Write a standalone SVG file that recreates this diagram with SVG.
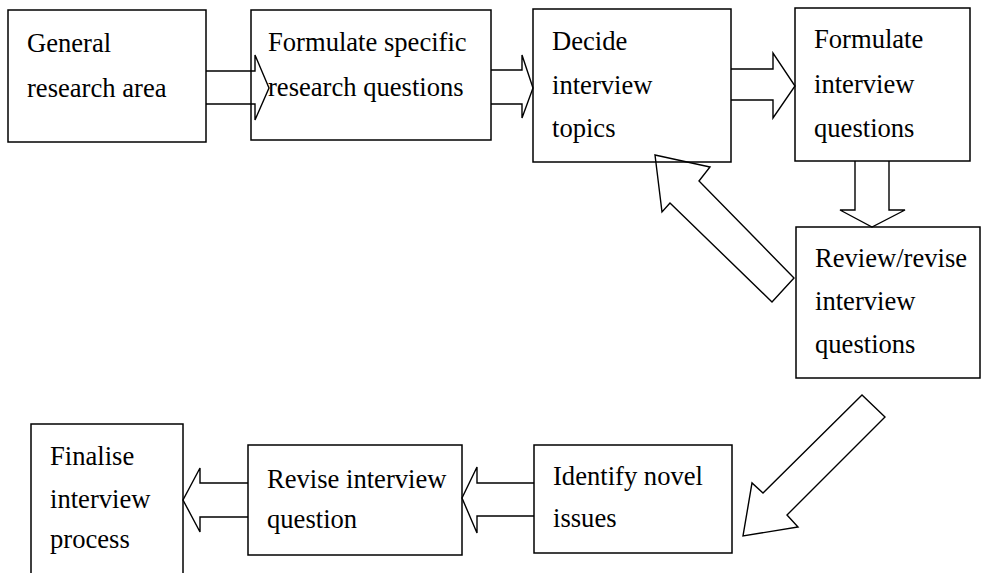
<svg xmlns="http://www.w3.org/2000/svg" width="982" height="573" viewBox="0 0 982 573">
  <style>
    .box { fill: #ffffff; stroke: #000000; stroke-width: 1.5; }
    .arrow { fill: none; stroke: #000000; stroke-width: 1.4; stroke-linejoin: miter; }
    .label { font-family: "Liberation Serif", "Times New Roman", serif; font-size: 26.6px; fill: #000000; }
  </style>
  <rect width="982" height="573" fill="#ffffff"/>

  <g id="n1">
    <rect class="box" x="8" y="10" width="198" height="132"/>
    <text class="label" x="27" y="52">General</text>
    <text class="label" x="27" y="97">research area</text>
  </g>
  <g id="n2">
    <rect class="box" x="251" y="10" width="240" height="130"/>
    <text class="label" x="268" y="51">Formulate specific</text>
    <text class="label" x="268" y="96">research questions</text>
  </g>
  <g id="n3">
    <rect class="box" x="533" y="9" width="198" height="153"/>
    <text class="label" x="552" y="50">Decide</text>
    <text class="label" x="552" y="94">interview</text>
    <text class="label" x="552" y="137">topics</text>
  </g>
  <g id="n4">
    <rect class="box" x="795" y="8" width="175" height="153"/>
    <text class="label" x="814" y="48">Formulate</text>
    <text class="label" x="814" y="93">interview</text>
    <text class="label" x="814" y="137">questions</text>
  </g>
  <g id="n5">
    <rect class="box" x="796" y="227" width="184" height="151"/>
    <text class="label" x="815" y="267">Review/revise</text>
    <text class="label" x="815" y="310">interview</text>
    <text class="label" x="815" y="353">questions</text>
  </g>
  <g id="n6">
    <rect class="box" x="534" y="445" width="198" height="108"/>
    <text class="label" x="553" y="485">Identify novel</text>
    <text class="label" x="553" y="527">issues</text>
  </g>
  <g id="n7">
    <rect class="box" x="248" y="445" width="214" height="110"/>
    <text class="label" x="267" y="488">Revise interview</text>
    <text class="label" x="267" y="528">question</text>
  </g>
  <g id="n8">
    <rect class="box" x="31" y="424" width="152" height="170"/>
    <text class="label" x="50" y="465">Finalise</text>
    <text class="label" x="50" y="508">interview</text>
    <text class="label" x="50" y="548">process</text>
  </g>

  <!-- block arrows between the steps -->
  <g id="connectors">
    <polyline class="arrow" points="206,71 255,71 255,55 269,88 255,120 255,104 206,104"/>
    <polyline class="arrow" points="491,70 522,70 522,55 533,88 522,118 522,104 491,104"/>
    <polyline class="arrow" points="731,69 773,69 773,53 795,86 773,118 773,100 731,100"/>
    <polyline class="arrow" points="855,161 855,210 840,210 872,227 905,210 889,210 889,161"/>
    <polygon class="arrow" points="655,155 710,167 699,181 794,278 772,302 670,203 662,212"/>
    <polygon class="arrow" points="862,395 763,493 752,483 743,536 798,527 787,515 885,417"/>
    <polyline class="arrow" points="534,483 477,483 477,467 462,498 477,533 477,516 534,516"/>
    <polyline class="arrow" points="248,483 200,483 200,468 183,500 200,532 200,517 248,517"/>
  </g>
</svg>
